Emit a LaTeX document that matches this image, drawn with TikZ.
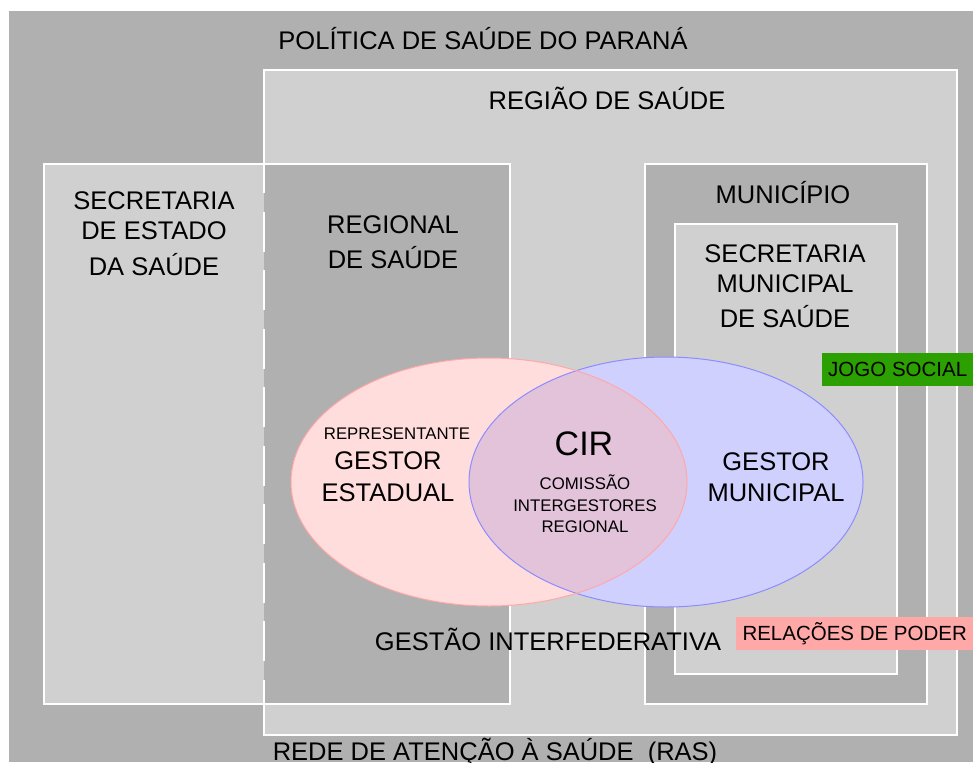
\documentclass[tikz,border=0pt]{standalone}
\usepackage{fontspec}
\setmainfont{Liberation Sans}

\definecolor{fundo}{HTML}{B0B0B0}
\definecolor{claro}{HTML}{D0D0D0}
\definecolor{rosa}{HTML}{FFDDDD}
\definecolor{rosaborda}{HTML}{FFA8A8}
\definecolor{azul}{HTML}{D0D0FF}
\definecolor{azulborda}{HTML}{8C8CFF}
\definecolor{cirfill}{HTML}{E2C3DA}
\definecolor{verde}{HTML}{2CA000}
\definecolor{poder}{HTML}{FFA8A8}

\begin{document}
\begin{tikzpicture}[x=1pt,y=-1pt,
	caixa/.style={draw=white,line width=1.3pt},
	rot/.style={font=\fontsize{25.5}{30}\selectfont,inner sep=0pt,anchor=base,align=center},
	rotp/.style={font=\fontsize{16.8}{21}\selectfont,inner sep=0pt,anchor=base,align=center},
	etiqueta/.style={font=\fontsize{20.5}{24}\selectfont,anchor=north west,inner sep=0pt,minimum height=33pt}]
		\useasboundingbox[fill=white] (0,0) rectangle (973,762);
		\fill[fundo] (9,11) rectangle (973,762);
		\draw[caixa,fill=claro] (264,70) rectangle (957,735);
		\fill[claro] (44,164) rectangle (510,704);
		\fill[fundo] (264,164) rectangle (510,704);
		\draw[white,line width=1.3pt,dash pattern=on 40pt off 18.5pt,dash phase=11pt] (264,164) -- (264,704);
		\draw[caixa] (44,164) rectangle (510,704);
		\draw[caixa,fill=fundo] (645,164) rectangle (927,704);
		\draw[caixa,fill=claro] (675,224) rectangle (897,674);
		\fill[rosa] (489,482) ellipse [x radius=198,y radius=124];
		\fill[azul] (666,482) ellipse [x radius=197,y radius=125];
		\begin{scope}
			\clip (489,482) ellipse [x radius=198,y radius=124];
			\fill[cirfill] (666,482) ellipse [x radius=197,y radius=125];
		\end{scope}
		\draw[azulborda,line width=1pt] (666,482) ellipse [x radius=197,y radius=125];
		\draw[rosaborda,line width=1pt] (489,482) ellipse [x radius=198,y radius=124];
		\node[rot] (politica) at (483,50) {POLÍTICA DE SAÚDE DO PARANÁ};
		\node[rot] (regiao) at (607,110) {REGIÃO DE SAÚDE};
		\node[rot] (sesa) at (154,275) {SECRETARIA\\DE ESTADO\\[6pt]DA SAÚDE};
		\node[rot] (regional) at (393,268) {REGIONAL\\[5pt]DE SAÚDE};
		\node[rot] (municipio) at (783,203) {MUNICÍPIO};
		\node[rot] (sms) at (785,327) {SECRETARIA\\MUNICIPAL\\[5pt]DE SAÚDE};
		\node[rotp] (representante) at (397,439) {REPRESENTANTE};
		\node[rot] (gestorest) at (388,501) {GESTOR\\[2pt]ESTADUAL};
		\node[rot,font=\fontsize{34}{40}\selectfont] (cir) at (584,455) {CIR};
		\node[rotp] (comissao) at (585,532) {COMISSÃO\\[1pt]INTERGESTORES\\REGIONAL};
		\node[rot] (gestormun) at (776,501) {GESTOR\\[1pt]MUNICIPAL};
		\node[rot] (gestao) at (548,650) {GESTÃO INTERFEDERATIVA};
		\node[etiqueta,fill=verde,minimum width=151pt] (jogo) at (822,353) {JOGO SOCIAL};
		\node[etiqueta,fill=poder,minimum width=237pt] (relacoes) at (736,617) {RELAÇÕES DE PODER};
		\node[rot] (ras) at (495,760) {REDE DE ATENÇÃO À SAÚDE\ \ (RAS)};
	\end{tikzpicture}
\end{document}
